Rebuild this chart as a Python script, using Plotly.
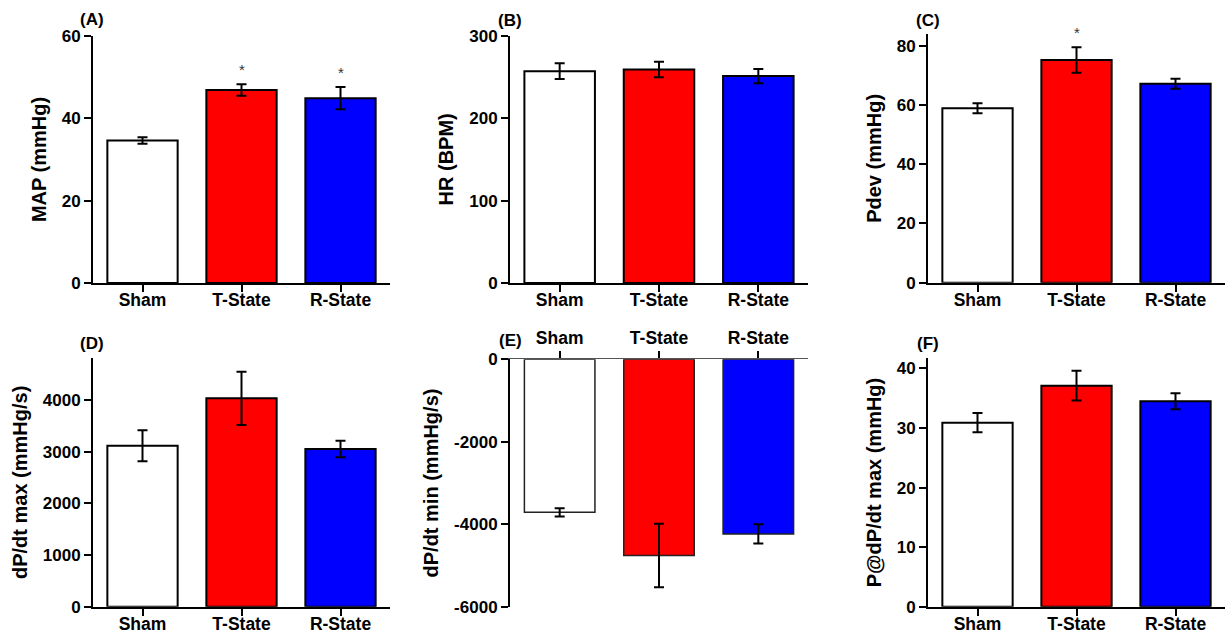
import plotly.graph_objects as go

W, H = 1225, 634

groups = ["Sham", "T-State", "R-State"]
colors = ["#FFFFFF", "#FF0000", "#0000FF"]

map_mean = [34.6, 46.9, 44.9]
map_err = [0.8, 1.4, 2.7]
hr_mean = [257, 259, 251]
hr_err = [9.5, 9.5, 8.7]
pdev_mean = [58.9, 75.2, 67.2]
pdev_err = [1.7, 4.3, 1.7]
dpdt_max_mean = [3116, 4033, 3052]
dpdt_max_err = [300, 515, 160]
dpdt_min_mean = [-3710, -4760, -4235]
dpdt_min_err = [100, 770, 235]
p_at_dpdt_mean = [30.9, 37.1, 34.5]
p_at_dpdt_err = [1.6, 2.5, 1.35]

panel_labels = ["(A)", "(B)", "(C)", "(D)", "(E)", "(F)"]
y_titles = ["MAP (mmHg)", "HR (BPM)", "Pdev (mmHg)",
            "dP/dt max (mmHg/s)", "dP/dt min (mmHg/s)", "P@dP/dt max (mmHg)"]
y_ticks = [[0, 20, 40, 60], [0, 100, 200, 300], [0, 20, 40, 60, 80],
           [0, 1000, 2000, 3000, 4000], [-6000, -4000, -2000, 0],
           [0, 10, 20, 30, 40]]
y_ranges = [[0, 60], [0, 300], [0, 84], [0, 4813], [-6000, 0], [0, 41.7]]
# significance markers (* over the bar) per panel
stars = [[False, True, True], [False, False, False], [False, True, False],
         [False, False, False], [False, False, False], [False, False, False]]

means = [map_mean, hr_mean, pdev_mean, dpdt_max_mean, dpdt_min_mean, p_at_dpdt_mean]
errs = [map_err, hr_err, pdev_err, dpdt_max_err, dpdt_min_err, p_at_dpdt_err]

# pixel boxes of each plot area: (left, right, top, bottom)
boxes = [(93, 390, 36, 283), (510, 808, 35.7, 283), (928, 1225, 34, 282.7),
         (93, 390, 358, 606.7), (510, 808, 359.3, 606.7), (928, 1225, 358.3, 606.7)]
# centre of each panel letter, pixels
label_pos = [(92, 19), (510, 20), (928, 20), (92, 343.5), (510, 340), (928, 343.5)]

FONT = "Liberation Sans, Arial, sans-serif"

fig = go.Figure()
annotations = []

for i in range(6):
    n = "" if i == 0 else str(i + 1)
    xa, ya = "x" + n, "y" + n
    l, r, t, b = boxes[i]
    negative = i == 4
    fig.add_trace(go.Bar(
        x=groups, y=means[i], xaxis=xa, yaxis=ya,
        width=0.71,
        marker=dict(color=colors,
                    line=dict(color="#222222" if negative else "black",
                              width=1.5 if negative else 2)),
        error_y=dict(type="data", array=errs[i], color="black",
                     thickness=2, width=5),
        showlegend=False, hoverinfo="skip", cliponaxis=False,
    ))
    xkey = "xaxis" + n
    ykey = "yaxis" + n
    fig.layout[xkey] = dict(
        domain=[l / W, r / W], anchor=ya, range=[-0.5, 2.5],
        type="category", automargin=False,
        side="top" if negative else "bottom",
        showline=True, linecolor="#555555" if negative else "black",
        linewidth=1 if negative else 2,
        ticks="outside", ticklen=7, tickwidth=2, tickcolor="black",
        ticklabelstandoff=0 if negative else -7,
        tickfont=dict(family=FONT, size=17.5, color="black", weight="bold"),
        showgrid=False, zeroline=False, fixedrange=True,
    )
    fig.layout[ykey] = dict(
        domain=[1 - b / H, 1 - t / H], anchor=xa, range=y_ranges[i],
        automargin=False,
        tickvals=y_ticks[i], ticktext=[str(v) for v in y_ticks[i]],
        showline=True, linecolor="black", linewidth=2,
        ticks="outside", ticklen=7, tickwidth=2, tickcolor="black",
        tickfont=dict(family=FONT, size=17, color="black", weight="bold"),
        title=dict(text=y_titles[i], standoff=10,
                   font=dict(family=FONT, size=20, color="black", weight="bold")),
        showgrid=False, zeroline=False, fixedrange=True,
    )
    # panel letter above the y axis
    lx, ly = label_pos[i]
    annotations.append(dict(
        text="<b>" + panel_labels[i] + "</b>", xref="paper", yref="paper",
        x=lx / W, y=1 - ly / H, xanchor="center", yanchor="middle",
        showarrow=False, font=dict(family=FONT, size=17, color="black"),
    ))
    for j, g in enumerate(groups):
        if stars[i][j]:
            annotations.append(dict(
                text="*", xref=xa, yref=ya, x=g, y=means[i][j] + errs[i][j],
                yanchor="bottom", yshift=4, showarrow=False,
                font=dict(family=FONT, size=15, color="#333333"),
            ))

fig.update_layout(
    width=W, height=H, margin=dict(l=0, r=0, t=0, b=0, autoexpand=False),
    paper_bgcolor="white", plot_bgcolor="white",
    annotations=annotations, bargap=0.3,
)

fig.write_html("out.html")
